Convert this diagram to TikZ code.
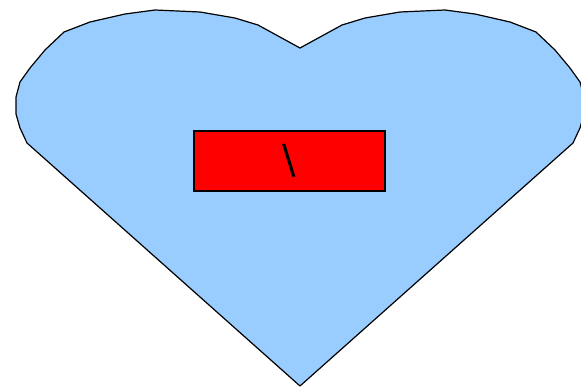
\documentclass[tikz,border=0pt]{standalone}
\usepackage{fontspec}
\setmainfont{DejaVu Sans}
\definecolor{heartblue}{RGB}{153,204,255}
\begin{document}
\begin{tikzpicture}[x=1pt,y=-1pt]
\useasboundingbox (0,0) rectangle (581,387);
% heart outline, mirrored about x=300
\filldraw[fill=heartblue,draw=black,line width=1.2pt,line join=round]
  (300,386) -- (27,143) -- (20,128) -- (16,114) -- (16,97) -- (20,82) -- (30,68) -- (45,50)
  -- (64,32) -- (90,22) -- (125,14) -- (155,10) -- (200,12) -- (235,18) -- (258,25) -- (300,48)
  -- (342,25) -- (365,18) -- (400,12) -- (445,10) -- (475,14) -- (510,22) -- (536,32)
  -- (555,50) -- (570,68) -- (580,82) -- (584,97) -- (584,114) -- (580,128) -- (573,143) -- cycle;
\node[draw=black,fill=red,line width=1.2pt,minimum width=191pt,minimum height=60pt,
  inner sep=0pt,font=\fontsize{40}{40}\selectfont] (box) at (289.5,161) {\textbackslash};
\end{tikzpicture}
\end{document}
